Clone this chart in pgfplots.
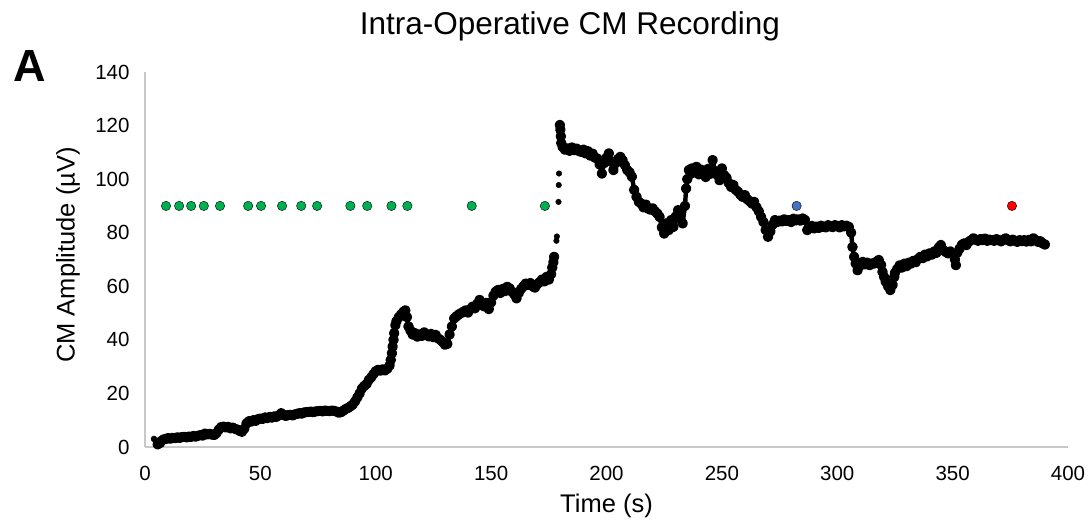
\documentclass[border=0pt]{standalone}
\usepackage{fontspec}
\setmainfont{Liberation Sans}
\usepackage{pgfplots}
\pgfplotsset{compat=1.18}
\definecolor{dotgreen}{HTML}{00B050}
\definecolor{dotblue}{HTML}{4472C4}
\definecolor{dotred}{HTML}{FF0000}
\definecolor{axgray}{HTML}{C8C8C8}
\begin{document}
\begin{tikzpicture}
\begin{axis}[
  at={(0pt,0pt)}, anchor=south west,
  scale only axis, width=923pt, height=375pt,
  xmin=0, xmax=400, ymin=0, ymax=140,
  xtick={0,50,...,400}, ytick={0,20,...,140},
  axis x line*=bottom, axis y line*=left,
  axis line style={draw=axgray, line width=1.3pt},
  major tick length=0pt, tick style={draw=none},
  /pgf/number format/assume math mode=true,
  ticklabel style={font=\fontsize{20.5}{24}\selectfont},
  xticklabel style={anchor=base, yshift=-33.5pt},
  yticklabel style={anchor=east, xshift=-12pt},
  clip=false,
]
% black recording, first segment
\addplot[only marks, mark=*, mark size=3pt, mark options={draw=none, fill=black}] coordinates {(3.9,3.0)};
\addplot[black, line width=4.4pt, line join=round, line cap=round, mark=*, mark size=3pt, mark options={draw=none, fill=black}] coordinates {
(5.5,1.0)(6.5,1.5)(7,2.2)(8,2.8)(9,3.0)(10,3.3)(11,3.1)(12,3.4)(13,3.3)(14,3.6)
(15,3.4)(16,3.7)(17,3.8)(18,3.6)(19,3.9)(20,3.8)(21,4.1)(22,3.9)(23,4.2)(24,4.4)
(25,4.3)(26,5.0)(27,4.7)(28,4.9)(29,4.6)(30,4.5)(31,5.2)(32,6.5)(33,7.4)(34,7.6)
(35,7.3)(36,7.5)(37,7.0)(38,7.2)(39,6.8)(40,6.5)(41,6.0)(42,5.7)(43,6.8)(44,8.8)
(45,9.6)(46,9.5)(47,10.0)(48,9.8)(49,10.4)(50,10.6)(51,10.5)(52,11.0)(53,10.8)(54,11.2)
(55,11.0)(56,11.4)(57,11.3)(58,11.8)(59,12.6)(60,12.0)(61,11.6)(62,11.9)(63,12.0)(64,11.8)
(65,12.2)(66,12.4)(67,12.6)(68,12.5)(69,12.9)(70,13.0)(71,13.1)(72,13.2)(73,13.0)(74,13.3)
(75,13.4)(76,13.5)(77,13.3)(78,13.6)(79,13.5)(80,13.4)(81,13.6)(82,13.5)(83,13.2)(84,12.8)
(85,13.0)(86,13.6)(87,14.2)(88,14.6)(89,15.2)(90,15.8)(91,17.0)(92,18.5)(93,20.0)(94,21.8)
(95,22.8)(96,23.5)(97,25.0)(98,26.0)(99,27.2)(100,28.3)(101,28.8)(102,28.5)(103,29.0)(104,28.6)
(105,29.2)(106,30.5)(106.5,32.5)(107,35.0)(107.3,37.5)(107.7,40.0)(108,42.5)(108.5,45.5)(109,47.0)(110,48.5)
(111,49.5)(112,50.5)(112.8,51.0)(113.5,48.5)(114.2,45.0)(115,43.5)(116,42.0)(117,42.5)(118,41.2)(119,42.0)
(120,41.5)(121,42.8)(122,42.0)(123,41.3)(124,42.2)(125,41.0)(126,41.8)(127,40.6)(128,40.0)(129,39.2)
(130,38.2)(131,38.5)(132,42.0)(133,45.0)(134,48.0)(135,48.8)(136,49.5)(137,50.0)(138,50.5)(139,51.0)
(140,50.2)(141,51.5)(142,52.4)(143,51.8)(144,53.5)(145,54.9)(146,53.0)(147,52.5)(148,53.8)(149,51.5)
(150,54.0)(151,56.5)(152,58.0)(153,58.6)(154,57.5)(155,59.0)(156,58.2)(157,59.8)(158,59.2)(159,58.0)
(160,57.0)(161,55.5)(162,57.5)(163,59.0)(164,60.0)(165,61.0)(166,60.5)(167,61.2)(168,60.0)(169,59.5)
(170,60.8)(171,61.5)(172,62.5)(173,61.8)(174,63.5)(175,62.5)(176,64.5)(176.5,67.0)(177,69.0)(177.3,71.0)
};
% sparse points of the jump
\addplot[only marks, mark=*, mark size=2.8pt, mark options={draw=none, fill=black}] coordinates {
(178.3,77.0)(178.5,78.6)(179.2,91.5)(179.3,97.8)(179.4,102.1)
};
% black recording, second segment
\addplot[black, line width=4.4pt, line join=round, line cap=round, mark=*, mark size=3pt, mark options={draw=none, fill=black}] coordinates {
(179.8,120.2)(180,118.5)(180.2,116.0)(180.4,113.5)(181,112.0)(182,111.0)(183,111.5)(184,110.6)(185,111.8)(186,110.8)
(187,111.4)(188,110.5)(189,110.2)(190,111.0)(191,109.6)(192,110.4)(193,108.8)(194,109.5)(195,108.0)(196,107.7)
(197,105.5)(198,102.1)(199,106.0)(200,108.0)(201,109.6)(202,106.5)(203,103.4)(204,106.0)(205,107.5)(206,108.3)
(207,107.0)(208,105.2)(209,103.4)(210,102.5)(211,100.9)(212,96.0)(213,93.4)(214,91.5)(215,90.9)(216,89.5)
(217,90.5)(218,89.0)(219,88.6)(220,89.1)(221,88.0)(222,87.2)(223,85.9)(224,82.0)(225,79.7)(226,83.5)
(227,81.0)(228,84.7)(229,82.2)(230,86.0)(231,88.4)(232,85.0)(233,83.5)(234,90.0)(234.5,96.5)(235,100.0)
(235.7,103.4)(236.5,102.0)(237,104.0)(238,102.5)(239,104.6)(240,101.8)(241,103.5)(242,102.7)(243,100.8)(244,103.8)
(245,102.0)(246,107.1)(247,103.0)(248,101.5)(249,99.6)(250,104.0)(251,101.5)(252,100.5)(253,98.5)(254,97.1)
(255,97.8)(256,96.0)(257,95.3)(258,94.2)(259,93.4)(260,94.0)(261,92.5)(262,91.8)(263,90.9)(264,91.5)
(265,89.5)(266,88.0)(267,85.9)(268,84.0)(269,81.0)(270,78.5)(271,80.5)(272,83.0)(273,84.7)(274,84.0)
(275,84.5)(276,84.2)(277,85.0)(278,84.4)(279,84.7)(280,84.0)(281,85.2)(282,84.6)(283,85.0)(284,84.5)
(285,85.3)(286,84.8)(287,81.0)(288,81.8)(289,82.5)(290,81.6)(291,82.3)(292,81.8)(293,82.6)(294,82.2)
(295,82.0)(296,82.8)(297,82.4)(298,82.1)(299,82.8)(300,82.5)(301,82.0)(302,82.8)(303,82.4)(304,82.6)
(305,82.2)(306,80.0)(306.6,74.7)(307.3,71.0)(308,68.5)(308.8,66.0)(310,67.8)(311,69.1)(312,68.2)(313,68.8)
(314,67.9)(315,68.5)(316,68.5)(317,69.2)(318,69.8)(319,68.0)(319.6,65.4)(320.3,63.5)(321,61.7)(322,60.0)
(323,58.6)(324,60.5)(324.7,63.5)(325,65.0)(326,66.5)(327,67.8)(328,67.0)(329,68.4)(330,67.5)(331,68.8)
(332,68.5)(333,69.5)(334,69.0)(335,70.2)(336,71.0)(337,70.5)(338,71.8)(339,71.2)(340,72.3)(341,71.8)
(342,73.0)(343,72.5)(344,74.5)(344.9,75.4)(346,73.5)(347,72.8)(348,72.3)(349,73.0)(350,72.0)(351,70.0)
(351.4,67.9)(352,72.5)(353,74.0)(354,75.5)(355,76.0)(356,75.4)(357,76.6)(358,77.2)(359,77.9)(360,77.4)
(361,77.0)(362,77.6)(363,77.2)(364,77.8)(365,77.0)(366,77.4)(367,77.2)(368,77.0)(369,77.6)(370,77.2)
(371,76.8)(372,77.4)(373,77.9)(374,77.2)(375,76.8)(376,77.4)(377,77.0)(378,76.6)(379,77.2)(380,76.9)
(381,77.2)(382,76.7)(383,77.3)(384,76.8)(385,77.9)(386,77.2)(387,76.6)(388,76.8)(389,76.0)(390,75.6)
};
% event markers
\addplot[only marks, mark=*, mark size=4.7pt, mark options={draw=none, fill=dotgreen}] coordinates {
(9.1,90)(14.8,90)(20.0,90)(25.5,90)(32.5,90)(44.7,90)(50.3,90)(59.4,90)(67.7,90)(74.6,90)
(89.0,90)(96.3,90)(106.8,90)(113.7,90)(141.6,90)(173.3,90)
};
\addplot[only marks, mark=*, mark size=4.7pt, mark options={draw=none, fill=dotblue}] coordinates {(282.4,90)};
\addplot[only marks, mark=*, mark size=4.7pt, mark options={draw=none, fill=dotred}] coordinates {(375.7,90)};
\end{axis}
\node[anchor=base, font=\fontsize{31.5}{36}\selectfont] at (425pt,412pt) {Intra-Operative CM Recording};
\node[anchor=base west, inner sep=0pt, font=\fontsize{45}{50}\selectfont\bfseries] at (-132pt,365pt) {A};
\node[anchor=base, font=\fontsize{25.5}{30}\selectfont] at (461.5pt,-66pt) {Time (s)};
\node[anchor=center, rotate=90, font=\fontsize{25.5}{30}\selectfont] at (-77pt,192pt) {CM Amplitude (µV)};
\pgfresetboundingbox
\path (-145pt,-79pt) rectangle (944pt,447pt);
\end{tikzpicture}
\end{document}
